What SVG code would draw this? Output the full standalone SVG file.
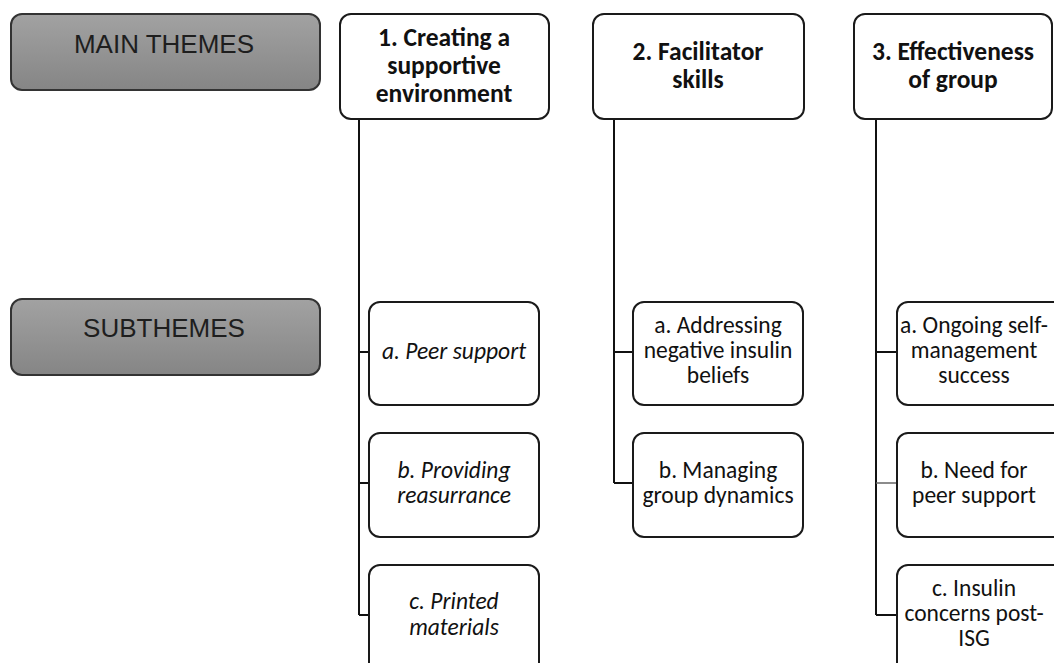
<svg xmlns="http://www.w3.org/2000/svg" width="1054" height="663" viewBox="0 0 1054 663">
<defs>
<linearGradient id="g" x1="0" y1="0" x2="0" y2="1">
<stop offset="0" stop-color="#a2a2a2"/>
<stop offset="1" stop-color="#858585"/>
</linearGradient>
</defs>
<style>
.lab{fill:url(#g);stroke:#333;stroke-width:2}
.lt{font-family:"Liberation Sans",Arial,sans-serif;font-size:26px;fill:#1e1e1e;text-anchor:middle}
.box{fill:#fff;stroke:#1a1a1a;stroke-width:2}
.mt{font-family:Carlito,Lato,"Open Sans",sans-serif;font-weight:bold;font-size:25.5px;fill:#111;text-anchor:middle}
.st{font-family:Carlito,Lato,"Open Sans",sans-serif;font-size:23.5px;fill:#111;text-anchor:middle}
.it{font-style:italic}
.c{fill:none;stroke:#111;stroke-width:2}
.cg{fill:none;stroke:#666;stroke-width:1.5}
</style>
<rect width="1054" height="663" fill="#fff"/>
<g id="label-main"><rect class="lab" x="11" y="14" width="309" height="76" rx="11"/><text class="lt" x="164" y="53">MAIN THEMES</text></g>
<g id="label-sub"><rect class="lab" x="11" y="299" width="309" height="76" rx="11"/><text class="lt" x="164" y="337">SUBTHEMES</text></g>
<g id="connectors">
<path class="c" d="M359 119V615M359 352H369M359 483H369M359 615H369"/>
<path class="c" d="M614 119V483M614 352H633M614 483H633"/>
<path class="c" d="M876 119V615M876 352H897M876 615H897"/>
<path class="cg" d="M876 483H897"/>
</g>
<g id="theme1"><rect class="box" x="340" y="14" width="209" height="105" rx="11"/><text class="mt" x="444" y="46">1. Creating a</text><text class="mt" x="444" y="74">supportive</text><text class="mt" x="444" y="102">environment</text></g>
<g id="theme2"><rect class="box" x="593" y="14" width="211" height="105" rx="11"/><text class="mt" x="698" y="60">2. Facilitator</text><text class="mt" x="698" y="88">skills</text></g>
<g id="theme3"><rect class="box" x="854" y="14" width="198" height="105" rx="11"/><text class="mt" x="953" y="60">3. Effectiveness</text><text class="mt" x="953" y="88">of group</text></g>
<g id="sub1a"><rect class="box" x="369" y="302" width="170" height="103" rx="11"/><text class="st it" x="454" y="359">a. Peer support</text></g>
<g id="sub1b"><rect class="box" x="369" y="433" width="170" height="104" rx="11"/><text class="st it" x="454" y="478">b. Providing</text><text class="st it" x="454" y="503">reasurrance</text></g>
<g id="sub1c"><rect class="box" x="369" y="565" width="170" height="110" rx="11"/><text class="st it" x="454" y="609">c. Printed</text><text class="st it" x="454" y="635">materials</text></g>
<g id="sub2a"><rect class="box" x="633" y="302" width="170" height="103" rx="11"/><text class="st" x="718" y="333">a. Addressing</text><text class="st" x="718" y="358">negative insulin</text><text class="st" x="718" y="383">beliefs</text></g>
<g id="sub2b"><rect class="box" x="633" y="433" width="170" height="104" rx="11"/><text class="st" x="718" y="478">b. Managing</text><text class="st" x="718" y="503">group dynamics</text></g>
<g id="sub3a"><rect class="box" x="897" y="302" width="180" height="103" rx="11"/><text class="st" x="974" y="333">a. Ongoing self-</text><text class="st" x="974" y="358">management</text><text class="st" x="974" y="383">success</text></g>
<g id="sub3b"><rect class="box" x="897" y="433" width="180" height="104" rx="11"/><text class="st" x="974" y="478">b. Need for</text><text class="st" x="974" y="503">peer support</text></g>
<g id="sub3c"><rect class="box" x="897" y="565" width="180" height="110" rx="11"/><text class="st" x="974" y="596">c. Insulin</text><text class="st" x="974" y="621">concerns post-</text><text class="st" x="974" y="646">ISG</text></g>
</svg>
